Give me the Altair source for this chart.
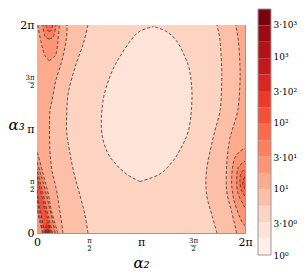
import altair as alt
import pandas as pd

# ---- contour regions (units of pi); band = colour level ----
# each region: rows of (y, x_left, x_right)
bg_y = [0.0, 2.0]
bg_xl = [0.0, 0.0]
bg_xr = [2.0, 2.0]

ell_y = [0.495, 0.56, 0.66, 0.79, 1.0, 1.3, 1.55, 1.7, 1.85, 1.94, 1.985]
ell_xl = [0.99, 0.87, 0.76, 0.67, 0.62, 0.64, 0.72, 0.80, 0.90, 0.99, 1.12]
ell_xr = [0.99, 1.17, 1.28, 1.37, 1.46, 1.49, 1.47, 1.42, 1.34, 1.24, 1.12]

l3_y = [0.0, 0.18, 0.375, 0.60, 0.86, 0.98, 1.11, 1.34, 1.59, 1.82, 2.0]
l3_x = [0.49, 0.46, 0.41, 0.35, 0.30, 0.285, 0.285, 0.30, 0.365, 0.445, 0.49]

r1_y = [0.0, 0.18, 0.375, 0.6, 0.855, 1.0, 1.175, 1.4, 1.6, 1.85, 2.0]
r1_x = [1.73, 1.68, 1.63, 1.63, 1.68, 1.715, 1.76, 1.775, 1.775, 1.76, 1.73]

l2_y = [0.0, 0.21, 0.40, 0.60, 0.79, 1.0, 1.175, 1.27, 1.46, 1.66, 1.85, 2.0]
l2_x = [0.25, 0.22, 0.19, 0.144, 0.125, 0.12, 0.125, 0.144, 0.18, 0.24, 0.28, 0.29]

r2_y = [0.0, 0.21, 0.405, 0.66, 0.886, 1.0, 1.175, 1.4, 1.6, 1.85, 2.0]
r2_x = [1.92, 1.87, 1.824, 1.824, 1.85, 1.88, 1.93, 1.95, 1.952, 1.936, 1.91]

l5_y = [0.0, 0.21, 0.37, 0.565, 0.79]
l5_xl = [0.0, 0.0, 0.0, 0.0, 0.0]
l5_xr = [0.20, 0.14, 0.11, 0.06, 0.0]

t5_y = [1.655, 1.69, 1.72, 1.83, 2.0]
t5_xl = [0.118, 0.087, 0.07, 0.04, 0.007]
t5_xr = [0.118, 0.16, 0.183, 0.2, 0.215]

r3_y = [0.067, 0.147, 0.34, 0.533, 0.727, 0.82]
r3_x = [2.0, 1.952, 1.888, 1.872, 1.904, 2.0]

l6_y = [0.0, 0.12, 0.245, 0.35, 0.5, 0.6, 0.69]
l6_xl = [0.055, 0.025, 0.0, 0.0, 0.0, 0.0, 0.0]
l6_xr = [0.175, 0.15, 0.12, 0.095, 0.055, 0.025, 0.0]

t6_y = [1.865, 1.88, 1.91, 2.0]
t6_xl = [0.118, 0.085, 0.07, 0.055]
t6_xr = [0.118, 0.15, 0.166, 0.183]

r4_y = [0.245, 0.28, 0.374, 0.50, 0.63, 0.69]
r4_x = [2.0, 1.98, 1.935, 1.92, 1.935, 2.0]

l7_y = [0.0, 0.1, 0.2, 0.356, 0.45, 0.55, 0.617]
l7_xl = [0.06, 0.04, 0.02, 0.0, 0.0, 0.0, 0.0]
l7_xr = [0.15, 0.125, 0.10, 0.065, 0.04, 0.015, 0.0]

t7_y = [1.94, 1.95, 2.0]
t7_xl = [0.118, 0.1, 0.087]
t7_xr = [0.118, 0.14, 0.15]

r5_y = [0.356, 0.40, 0.48, 0.57, 0.617]
r5_x = [2.0, 1.97, 1.952, 1.96, 2.0]

l8_y = [0.0, 0.1, 0.2, 0.3, 0.42, 0.5, 0.55]
l8_xl = [0.075, 0.055, 0.035, 0.015, 0.0, 0.0, 0.0]
l8_xr = [0.135, 0.11, 0.085, 0.06, 0.03, 0.012, 0.0]

r6_y = [0.42, 0.48, 0.55]
r6_x = [2.0, 1.978, 2.0]

c9_y = [0.0, 0.04, 0.08, 0.1]
c9_xl = [0.085, 0.083, 0.09, 0.1]
c9_xr = [0.12, 0.118, 0.11, 0.1]

c10_y = [0.0, 0.03, 0.05]
c10_xl = [0.093, 0.093, 0.1]
c10_xr = [0.108, 0.108, 0.1]

# colour bar level boundaries
cb_levels = [1, 1.77, 3.13, 5.54, 9.8, 17.4, 30.7, 54.3, 96.2, 170, 301, 533, 943, 1669, 2954, 5228]
cb_ticks = [1, 3, 10, 30, 100, 300, 1000, 3000]
cb_labels = ["10⁰", "3·10⁰", "10¹", "3·10¹", "10²", "3·10²", "10³", "3·10³"]

# ---- Reds colormap ----
_reds = ["#fff5f0", "#fee0d2", "#fcbba1", "#fc9272", "#fb6a4a",
         "#ef3b2c", "#cb181d", "#a50f15", "#67000d"]


def reds(t):
    t = min(max(t, 0.0), 1.0)
    pos = t * 8
    i = min(int(pos), 7)
    f = pos - i
    a = [int(_reds[i][k:k + 2], 16) for k in (1, 3, 5)]
    b = [int(_reds[i + 1][k:k + 2], 16) for k in (1, 3, 5)]
    c = [round(a[j] + (b[j] - a[j]) * f) for j in range(3)]
    return "#%02x%02x%02x" % tuple(c)


NB = len(cb_levels) - 1
band_colors = [reds((k + 0.5) / NB) for k in range(NB)]

regions = [
    ("bg", 2, bg_y, bg_xl, bg_xr),
    ("ell", 1, ell_y, ell_xl, ell_xr),
    ("l3", 3, l3_y, [0.0] * len(l3_y), l3_x),
    ("r1", 3, r1_y, r1_x, [2.0] * len(r1_y)),
    ("l2", 4, l2_y, [0.0] * len(l2_y), l2_x),
    ("r2", 4, r2_y, r2_x, [2.0] * len(r2_y)),
    ("l5", 5, l5_y, l5_xl, l5_xr),
    ("t5", 5, t5_y, t5_xl, t5_xr),
    ("r3", 5, r3_y, r3_x, [2.0] * len(r3_y)),
    ("l6", 6, l6_y, l6_xl, l6_xr),
    ("t6", 6, t6_y, t6_xl, t6_xr),
    ("r4", 6, r4_y, r4_x, [2.0] * len(r4_y)),
    ("l7", 7, l7_y, l7_xl, l7_xr),
    ("t7", 7, t7_y, t7_xl, t7_xr),
    ("r5", 7, r5_y, r5_x, [2.0] * len(r5_y)),
    ("l8", 8, l8_y, l8_xl, l8_xr),
    ("r6", 8, r6_y, r6_x, [2.0] * len(r6_y)),
    ("c9", 9, c9_y, c9_xl, c9_xr),
    ("c10", 10, c10_y, c10_xl, c10_xr),
]


def on_edge(v):
    return v <= 0.0 or v >= 2.0


area_rows = []
line_rows = []
for name, band, ys, xl, xr in regions:
    for k, (y, a, b) in enumerate(zip(ys, xl, xr)):
        area_rows.append({"region": name, "y": y, "xl": a, "xr": b, "k": k})
    for side, xs_ in (("L", xl), ("R", xr)):
        n = len(xs_)
        for k in range(n):
            keep = not on_edge(xs_[k])
            if not keep:
                if k > 0 and not on_edge(xs_[k - 1]):
                    keep = True
                if k < n - 1 and not on_edge(xs_[k + 1]):
                    keep = True
            line_rows.append({"line": name + side, "y": ys[k],
                              "x": xs_[k] if keep else None, "k": k})

area_df = pd.DataFrame(area_rows)
line_df = pd.DataFrame(line_rows)

xs = alt.Scale(domain=[0, 2], nice=False, zero=False)
ys = alt.Scale(domain=[0, 2], nice=False, zero=False)

frac_test = "datum.value == 0.5 || datum.value == 1.5"
lab_expr = ("datum.value == 0 ? '0' : datum.value == 0.5 ? ['π','–','2'] : "
            "datum.value == 1 ? 'π' : datum.value == 1.5 ? ['3π','—','2'] : '2π'")

x_axis = alt.Axis(values=[0, 0.5, 1, 1.5, 2], labelExpr=lab_expr, title="α₂",
                  grid=False, ticks=False, domain=False, labelPadding=3,
                  labelFont="DejaVu Serif", labelColor="#000000",
                  labelFontSize=alt.condition(frac_test, alt.value(7), alt.value(11)),
                  labelLineHeight=4, labelFlush=False,
                  titleFont="DejaVu Serif", titleFontStyle="italic", titleFontWeight="normal",
                  titleFontSize=15, titlePadding=4)
y_axis = alt.Axis(values=[0, 0.5, 1, 1.5, 2], labelExpr=lab_expr, title="α₃",
                  grid=False, ticks=False, domain=False, labelPadding=3,
                  labelFont="DejaVu Serif", labelColor="#000000",
                  labelFontSize=alt.condition(frac_test, alt.value(7), alt.value(11)),
                  labelLineHeight=4, labelFlush=False,
                  titleFont="DejaVu Serif", titleFontStyle="italic", titleFontWeight="normal",
                  titleFontSize=15, titleAngle=0, titleAlign="left", titleBaseline="middle",
                  titleX=-29, titleY=99)

layers = []
for name, band, *_ in regions:
    sub = area_df[area_df.region == name].sort_values("k")
    layers.append(
        alt.Chart(sub).mark_area(orient="horizontal", interpolate="cardinal",
                                 fill=band_colors[band], stroke=None, opacity=1)
        .encode(y=alt.Y("y:Q", scale=ys, axis=y_axis),
                x=alt.X("xl:Q", scale=xs, axis=x_axis, stack=None),
                x2="xr:Q")
    )

lines = alt.Chart(line_df).mark_line(interpolate="cardinal", color="#333333",
                                     strokeDash=[3, 2], strokeWidth=0.8, clip=True).encode(
    x=alt.X("x:Q", scale=xs, axis=x_axis),
    y=alt.Y("y:Q", scale=ys, axis=y_axis),
    detail="line:N", order="k:Q")

main = alt.layer(*layers, lines)

# colour bar, drawn beside the plot with its own log scale
cb_rows = []
for b in range(NB):
    cb_rows.append({"lo": cb_levels[b], "hi": cb_levels[b + 1], "band": b, "kind": "band"})
cb_rows.append({"lo": cb_levels[0], "hi": cb_levels[-1], "band": -1, "kind": "frame"})
cb_df = pd.DataFrame(cb_rows)

cb_expr = " : ".join(
    "datum.value == %s ? '%s'" % (v, s) for v, s in zip(cb_ticks, cb_labels)) + " : ''"
cb_scale = alt.Scale(type="log", domain=[cb_levels[0], cb_levels[-1]], nice=False,
                     range=[230, -16])
cb_axis = alt.Axis(orient="right", values=cb_ticks, labelExpr=cb_expr, title=None,
                   grid=False, ticks=False, domain=False, labelPadding=2, offset=26,
                   labelFont="DejaVu Serif", labelFontSize=9, labelFlush=False,
                   labelColor="#000000")

cb_base = alt.Chart(cb_df).encode(
    x=alt.value(221), x2=alt.value(234),
    y=alt.Y("lo:Q", scale=cb_scale, axis=cb_axis),
    y2="hi:Q")
cbar = cb_base.transform_filter("datum.kind == 'band'").mark_rect().encode(
    color=alt.Color("band:O", scale=alt.Scale(domain=list(range(NB)), range=band_colors),
                    legend=None))
cb_frame = cb_base.transform_filter("datum.kind == 'frame'").mark_rect(
    fill=None, stroke="#999999", strokeWidth=1)

cb_layer = alt.layer(cbar, cb_frame)

chart = alt.layer(main, cb_layer).resolve_scale(
    y="independent", color="independent").properties(
    width=208, height=208, padding=0).configure_view(stroke="#999999", strokeWidth=1)

chart.save("out.html", embed_options={"renderer": "svg", "actions": False})
